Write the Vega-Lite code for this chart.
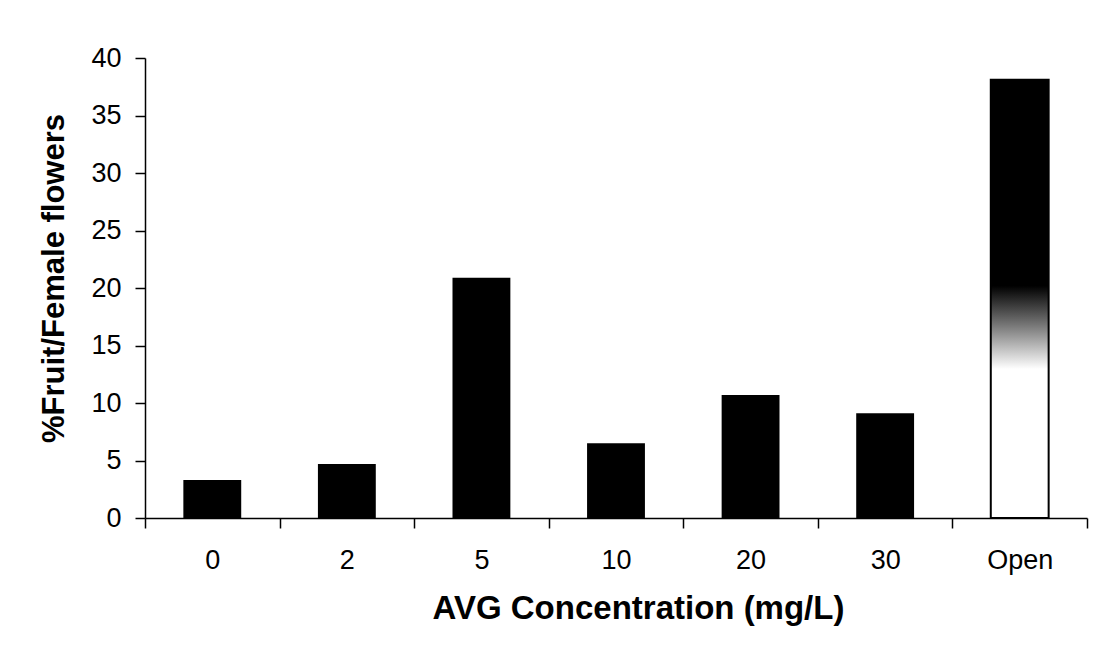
{
  "$schema": "https://vega.github.io/schema/vega-lite/v6.json",
  "width": 942,
  "height": 460,
  "autosize": {"type": "none"},
  "padding": {"left": 145, "top": 58, "right": 12, "bottom": 145},
  "background": "white",
  "config": {
    "view": {"stroke": null},
    "font": "Liberation Sans",
    "axis": {"domainColor": "black", "tickColor": "black", "domainWidth": 1.5, "tickWidth": 1.5, "labelColor": "black", "titleColor": "black", "grid": false, "labelFont": "Liberation Sans", "titleFont": "Liberation Sans"}
  },
  "data": {
    "values": [
      {"conc": "0", "pct": 3.3},
      {"conc": "2", "pct": 4.7},
      {"conc": "5", "pct": 20.9},
      {"conc": "10", "pct": 6.5},
      {"conc": "20", "pct": 10.7},
      {"conc": "30", "pct": 9.1},
      {"conc": "Open", "pct": 38.1}
    ]
  },
  "encoding": {
    "x": {
      "field": "conc", "type": "nominal", "sort": null,
      "scale": {"paddingInner": 0, "paddingOuter": 0},
      "axis": {
        "title": "AVG Concentration (mg/L)",
        "labelAngle": 0, "labelFontSize": 27, "labelPadding": 19,
        "tickSize": 10, "tickBand": "extent",
        "titleFontSize": 33, "titleFontWeight": "bold",
        "titleX": 493, "titleY": 100, "titleBaseline": "alphabetic", "titleAnchor": null, "titleAlign": "center"
      }
    },
    "y": {
      "field": "pct", "type": "quantitative",
      "scale": {"domain": [0, 40], "nice": false},
      "axis": {
        "title": "%Fruit/Female flowers",
        "values": [0, 5, 10, 15, 20, 25, 30, 35, 40],
        "labelFontSize": 27, "labelPadding": 14, "tickSize": 10,
        "titleFontSize": 31, "titleFontWeight": "bold",
        "titleX": -82, "titleY": 220, "titleBaseline": "alphabetic", "titleAlign": "center", "titleAngle": -90
      }
    }
  },
  "layer": [
    {
      "transform": [{"filter": "datum.conc !== 'Open'"}],
      "mark": {"type": "bar", "color": "black", "width": {"band": 0.43}}
    },
    {
      "transform": [{"filter": "datum.conc === 'Open'"}],
      "mark": {
        "type": "bar",
        "width": {"band": 0.43},
        "stroke": "black",
        "strokeWidth": 2,
        "fill": {
          "gradient": "linear", "x1": 0, "y1": 0, "x2": 0, "y2": 1,
          "stops": [
            {"offset": 0, "color": "black"},
            {"offset": 0.47, "color": "black"},
            {"offset": 0.56, "color": "#777777"},
            {"offset": 0.66, "color": "white"},
            {"offset": 1, "color": "white"}
          ]
        }
      }
    }
  ]
}
